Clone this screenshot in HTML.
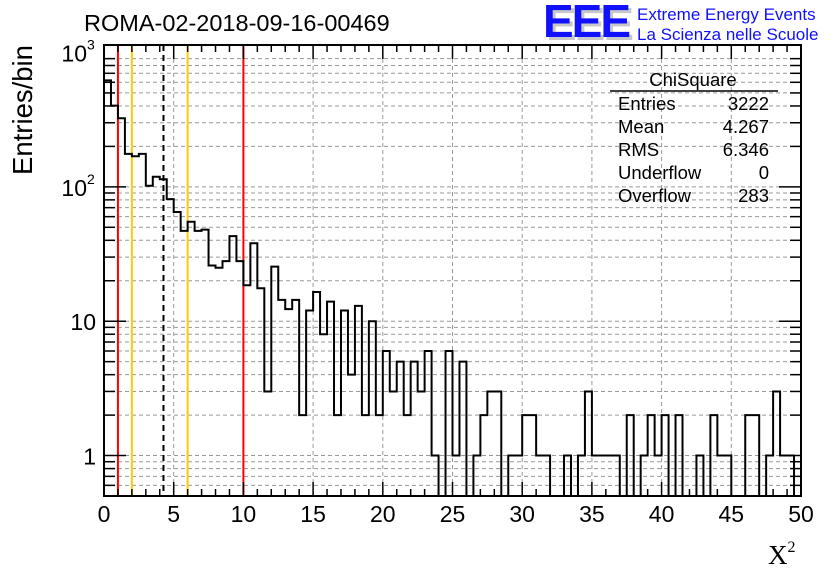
<!DOCTYPE html>
<html><head><meta charset="utf-8"><style>
body{margin:0;background:#fff}
svg{display:block;font-family:"Liberation Sans",sans-serif}
</style></head><body>
<svg id="c" width="836" height="572" viewBox="0 0 836 572">
<rect width="836" height="572" fill="#fff"/>
<text x="84" y="31" font-size="23.5">ROMA-02-2018-09-16-00469</text>
<g>
<text x="546" y="40" font-size="46" font-weight="bold" fill="#c8c8c8" letter-spacing="-2">EEE</text>
<text x="543" y="37" font-size="46" font-weight="bold" fill="#1010ff" letter-spacing="-2">EEE</text>
<text x="637" y="20" font-size="17" fill="#1010ff">Extreme Energy Events</text>
<text x="637" y="40" font-size="17" fill="#1010ff">La Scienza nelle Scuole</text>
</g>
<g id="grid"></g>
<g id="vlines"></g>
<path id="hist" fill="none" stroke="#000" stroke-width="2"/>
<g id="axes"></g>
<g font-size="18.5">
<text x="693" y="86" text-anchor="middle">ChiSquare</text>
<line x1="610" y1="91" x2="778" y2="91" stroke="#000" stroke-width="1.5"/>
<text x="618" y="110">Entries</text><text x="769" y="110" text-anchor="end">3222</text>
<text x="618" y="133">Mean</text><text x="769" y="133" text-anchor="end">4.267</text>
<text x="618" y="156">RMS</text><text x="769" y="156" text-anchor="end">6.346</text>
<text x="618" y="179">Underflow</text><text x="769" y="179" text-anchor="end">0</text>
<text x="618" y="202">Overflow</text><text x="769" y="202" text-anchor="end">283</text>
</g>
<text transform="translate(32,110) rotate(-90)" font-size="27.5" text-anchor="middle">Entries/bin</text>
<text x="768" y="564" font-size="27" font-family="Liberation Serif,serif">X<tspan font-size="16" dy="-12">2</tspan></text>
</svg>
<script>
const counts=[620,402,324,176,169,176,102,119,114,81,65,47,55,47,48,26,25,28,43,28,
18.5,38,17.6,3,25.5,14.4,12.3,14.4,2,12,16.5,8,14,2,12,4,13,2,10,2,
6,3,5,2,5,3,6,1,0,6,1,5,0,1,2,3,3,0,1,1,
2,2,1,1,0,0,1,0,1,3,1,1,1,1,0,2,0,1,2,1,
2,0,2,0,0,1,0,2,1,1,0,0,2,2,0,1,3,1,1,0];
const xTicks=[0,5,10,15,20,25,30,35,40,45,50];
const yTicks=[1,10,100,1000];
const yTickLabels=["1","10","10","10"];
const yTickExp=["","","2","3"];
const refLines=[1,2,4.267,6,10];
const refColors=["#ff0000","#ffcc00","#000","#ffcc00","#ff0000"];
const binW=0.5,xMin=0,xMax=50,yMin=0.5,yMax=1137;
const L=104,R=801,T=45,B=496;
const X=v=>L+(v-xMin)/(xMax-xMin)*(R-L);
const Y=v=>B-(Math.log10(v)-Math.log10(yMin))/(Math.log10(yMax)-Math.log10(yMin))*(B-T);
const NS="http://www.w3.org/2000/svg";
function mk(tag,parent,attrs){const e=document.createElementNS(NS,tag);for(const k in attrs)e.setAttribute(k,attrs[k]);parent.appendChild(e);return e;}
const grid=document.getElementById('grid');
xTicks.slice(1,-1).forEach(v=>{const l=mk('line',grid,{x1:X(v),x2:X(v),y1:T,y2:B,stroke:'#999','stroke-dasharray':'4,3','stroke-width':1});

});
for(let d=0;d<4;d++)for(let m=1;m<10;m++){const v=m*Math.pow(10,d-1);if(v<yMin||v>yMax||v===0.1)continue;
const l=mk('line',grid,{x1:L,x2:R,y1:Y(v),y2:Y(v),stroke:'#999','stroke-dasharray':'4,3','stroke-width':1});

}
const vl=document.getElementById('vlines');
refLines.forEach((v,i)=>{const a={x1:X(v),x2:X(v),y1:T,y2:B,stroke:refColors[i],'stroke-width':2};if(i===2)a['stroke-dasharray']='6,4';
const l=mk('line',vl,a);

});
let d='M'+X(0)+','+B;
counts.forEach((c,i)=>{const y=c>0?Y(c):B;d+=' L'+X(i*binW)+','+y+' L'+X((i+1)*binW)+','+y;});
d+=' L'+X(xMax)+','+B;
document.getElementById('hist').setAttribute('d',d);
const ax=document.getElementById('axes');
mk('rect',ax,{x:L,y:T,width:R-L,height:B-T,fill:'none',stroke:'#000','stroke-width':2});
for(let v=0;v<=50;v+=0.5){const len=v%5===0?14:(v%1===0?7:0);if(!len)continue;
mk('line',ax,{x1:X(v),x2:X(v),y1:B,y2:B-len,stroke:'#000','stroke-width':1.5});
mk('line',ax,{x1:X(v),x2:X(v),y1:T,y2:T+len,stroke:'#000','stroke-width':1.5});}
for(let d2=0;d2<4;d2++)for(let m=1;m<10;m++){const v=m*Math.pow(10,d2-1);if(v<yMin||v>yMax)continue;const len=m===1?22:11;
mk('line',ax,{x1:L,x2:L+len,y1:Y(v),y2:Y(v),stroke:'#000','stroke-width':1.5});
mk('line',ax,{x1:R,x2:R-len,y1:Y(v),y2:Y(v),stroke:'#000','stroke-width':1.5});}
xTicks.forEach(v=>{const t=mk('text',ax,{x:X(v),y:B+26,'font-size':23,'text-anchor':'middle'});t.textContent=v;

});
yTicks.forEach((v,i)=>{const t=mk('text',ax,{x:yTickExp[i]?L-17:L-8,y:Y(v)+9,'font-size':23,'text-anchor':'end'});t.textContent=yTickLabels[i];


if(yTickExp[i]){const e=mk('text',ax,{x:L-17,y:Y(v)-3,'font-size':14});e.textContent=yTickExp[i];}});
</script>
</body></html>
